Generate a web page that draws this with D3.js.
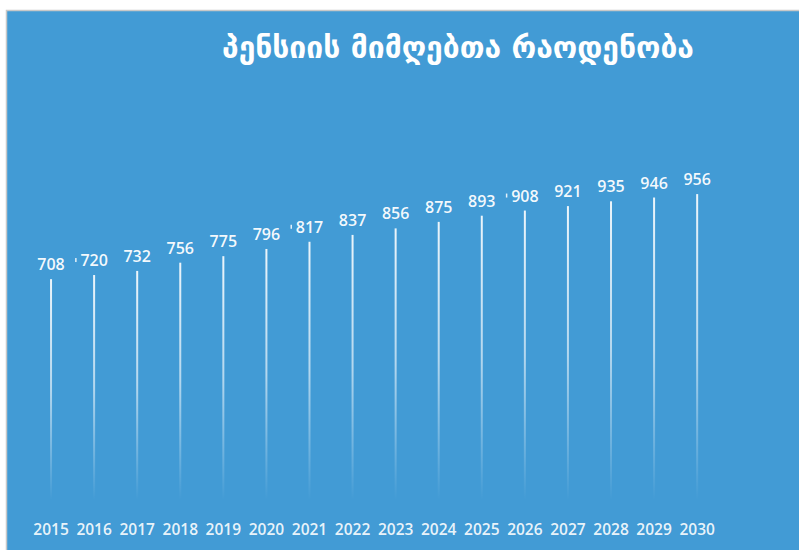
<!DOCTYPE html>
<html>
<head>
<meta charset="utf-8">
<script src="https://cdn.jsdelivr.net/npm/d3@7"></script>
<style>
html,body{margin:0;padding:0;background:#fff;}
svg{display:block;}
</style>
</head>
<body>
<svg id="chart" width="799" height="550"></svg>
<script>
const title = "პენსიის მიმღებთა რაოდენობა";
const years = ["2015","2016","2017","2018","2019","2020","2021","2022","2023","2024","2025","2026","2027","2028","2029","2030"];
const values = [708,720,732,756,775,796,817,837,856,875,893,908,921,935,946,956];
const markedYears = ["2016","2021","2026"];

const svg = d3.select("#chart");
const bg = "#429BD5";

svg.append("rect").attr("x",6.5).attr("y",10.5).attr("width",800).attr("height",550)
  .attr("fill",bg).attr("stroke","#c8c8c8").attr("stroke-width",1.5);

const defs = svg.append("defs");
const grad = defs.append("linearGradient").attr("id","barGrad")
  .attr("x1",0).attr("y1",0).attr("x2",0).attr("y2",1);
grad.append("stop").attr("offset","0%").attr("stop-color","#ffffff").attr("stop-opacity",0.9);
grad.append("stop").attr("offset","50%").attr("stop-color","#ffffff").attr("stop-opacity",0.6);
grad.append("stop").attr("offset","100%").attr("stop-color","#ffffff").attr("stop-opacity",0);

const x = d3.scaleBand().domain(years).range([29.5, 718.7]).paddingInner(0).paddingOuter(0);
const y = d3.scaleLinear().domain([0,1000]).range([522,179]);
const baseY = 500;
const barW = 2;

svg.append("g").selectAll("rect").data(years).join("rect")
  .attr("x", d => x(d) + x.bandwidth()/2 - barW/2)
  .attr("y", (d,i) => y(values[i]))
  .attr("width", barW)
  .attr("height", (d,i) => baseY - y(values[i]))
  .attr("fill","url(#barGrad)");

const font = "'Open Sans', 'Noto Sans', sans-serif";

svg.append("g").selectAll("text").data(years).join("text")
  .attr("x", d => x(d) + x.bandwidth()/2)
  .attr("y", (d,i) => y(values[i]) - 9)
  .attr("text-anchor","middle")
  .attr("font-family",font)
  .attr("font-weight",600)
  .attr("font-size",16)
  .attr("fill","#ffffff")
  .attr("fill-opacity",0.95)
  .text((d,i) => values[i]);

svg.append("g").selectAll("rect").data(markedYears).join("rect")
  .attr("x", d => x(d) + x.bandwidth()/2 - 19)
  .attr("y", d => y(values[years.indexOf(d)]) - 17)
  .attr("width",1.5).attr("height",4)
  .attr("fill","#ffffff").attr("fill-opacity",0.85);

const xAxis = d3.axisBottom(x).tickSize(0).tickPadding(0);
const gx = svg.append("g").attr("transform","translate(0,520)").call(xAxis);
gx.select(".domain").remove();
gx.selectAll("text")
  .attr("font-family",font)
  .attr("font-weight",600)
  .attr("font-size",15.5)
  .attr("fill","#ffffff")
  .attr("fill-opacity",0.9)
  .attr("dy","0.95em");

svg.append("text")
  .attr("x",458).attr("y",58)
  .attr("text-anchor","middle")
  .attr("font-family","'DejaVu Sans', sans-serif")
  .attr("font-weight","bold")
  .attr("font-size",30)
  .attr("fill","#ffffff")
  .text(title);
</script>
</body>
</html>
